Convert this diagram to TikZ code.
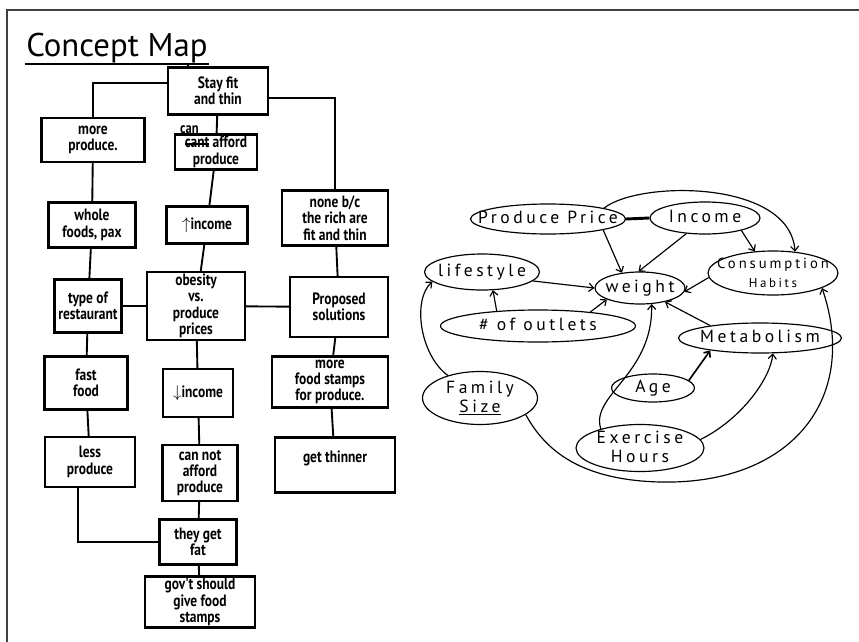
\documentclass[tikz,border=0pt]{standalone}
\usepackage{fontspec}
\setmainfont{PT Sans}
\newfontfamily\boxfont[FakeStretch=0.82]{PT Sans}
\newfontfamily\handfont[LetterSpace=20]{PT Sans}
\usetikzlibrary{positioning,shapes.geometric,arrows.meta}
\tikzset{>={Straight Barb[length=4pt,width=7pt]}}
\tikzset{
  mapbox/.style={draw, line width=1.8pt, inner sep=1.5pt, align=center, font=\boxfont\bfseries\fontsize{14}{14}\selectfont},
  oval/.style={draw, ellipse, line width=1pt, inner sep=0pt, font=\handfont\fontsize{15}{16}\selectfont},
  link/.style={line width=1.6pt},
  cause/.style={->, line width=1pt},
}
\newcommand\hand[1]{\makebox[0pt]{\smash{\raisebox{-0.3em}{\begin{tabular}{@{}c@{}}#1\end{tabular}}}}}
\newcommand\crossout[1]{\setbox0\hbox{#1}\rlap{\rule[0.35ex]{\wd0}{1.6pt}}\box0\relax}

\begin{document}
\begin{tikzpicture}[x=0.03cm, y=-0.03cm]
      \useasboundingbox (0,0) rectangle (859,642);
      \draw[line width=1.2pt, black!75] (7,642) -- (7,10) -- (859,10);
      % concept map on the left
      \node[font=\fontsize{28}{30}\selectfont, inner sep=1pt, anchor=base] (title) at (117,56) {Concept Map};
      \draw[line width=1.2pt] (title.south west) -- (title.south east);
      \node[mapbox, minimum width=3cm, minimum height=1.41cm] (stay) at (218,91) {Stay fit\\and thin};
      \node[mapbox, minimum width=3.09cm, minimum height=1.32cm] (more) at (93,140) {more\\produce.};
      \node[mapbox, minimum width=2.46cm, minimum height=1.05cm] (afford) at (216,152) {\crossout{cant} afford\\produce};
      \node[font=\boxfont\bfseries\fontsize{13}{13}\selectfont, inner sep=0pt, anchor=south west, above right=0cm and 0.18cm of afford.north west] (canlbl) {can};
      \node[mapbox, minimum width=3.18cm, minimum height=1.65cm] (none) at (335,218) {none b/c\\the rich are\\fit and thin};
      \node[mapbox, minimum width=2.61cm, minimum height=1.35cm] (whole) at (92,225) {whole\\foods, pax};
      \node[mapbox, minimum width=2.43cm, minimum height=1.11cm] (upinc) at (207,225) {$\uparrow$income};
      \node[mapbox, minimum width=2.01cm, minimum height=1.59cm] (type) at (88,306) {type of\\restaurant};
      \node[mapbox, minimum width=2.94cm, minimum height=2.04cm] (obes) at (196,306) {obesity\\vs.\\produce\\prices};
      \node[mapbox, minimum width=2.94cm, minimum height=1.8cm] (prop) at (339,307) {Proposed\\solutions};
      \node[mapbox, minimum width=2.49cm, minimum height=1.59cm] (fast) at (86,383) {fast\\food};
      \node[mapbox, minimum width=2.1cm, minimum height=1.44cm] (dninc) at (198,393) {$\downarrow$income};
      \node[mapbox, minimum width=3.48cm, minimum height=1.53cm] (stamps) at (330,382) {more\\food stamps\\for produce.};
      \node[mapbox, minimum width=2.7cm, minimum height=1.5cm] (less) at (90,462) {less\\produce};
      \node[mapbox, minimum width=2.25cm, minimum height=1.68cm] (cannot) at (200,473) {can not\\afford\\produce};
      \node[mapbox, minimum width=3.6cm, minimum height=1.65cm] (thin) at (335,465) {get thinner\\\mbox{}};
      \node[mapbox, minimum width=2.31cm, minimum height=1.35cm] (fat) at (198,542) {they get\\fat};
      \node[mapbox, minimum width=3.3cm, minimum height=1.5cm] (gov) at (200,602) {gov't should\\give food\\stamps};
      \draw[link] ([xshift=-0.9cm]stay.north) -- ([xshift=-0.9cm]stay.north |- title.south);
      \draw[link] ([yshift=0.24cm]stay.west) -| (more.north);
      \draw[link] ([yshift=-0.2cm]stay.east) -| (none.north);
      \draw[link] (stay) -- (afford);
      \draw[link] (more) -- (whole);
      \draw[link] (whole) -- (type);
      \draw[link] (type) -- (fast);
      \draw[link] (fast) -- (less);
      \draw[link] (afford) -- (upinc);
      \draw[link] (upinc) -- (obes);
      \draw[link] (obes) -- (dninc);
      \draw[link] (dninc) -- (cannot);
      \draw[link] (cannot) -- (fat);
      \draw[link] (fat) -- (gov);
      \draw[link] (none) -- (prop);
      \draw[link] (prop) -- (stamps);
      \draw[link] (stamps) -- (thin);
      \draw[link] (type) -- (obes);
      \draw[link] (obes) -- (prop);
      \draw[link] ([xshift=-0.36cm]less.south) |- (fat.west);
      % causal map on the right
      \node[oval, minimum width=4.65cm, minimum height=0.9cm] (pp) at (548,219) {\hand{Produce Price}};
      \node[oval, minimum width=3.3cm, minimum height=0.96cm] (inc) at (705,218) {\hand{Income}};
      \node[oval, minimum width=3.45cm, minimum height=1.08cm] (life) at (482,272) {\hand{lifestyle}};
      \node[oval, minimum width=2.7cm, minimum height=0.96cm] (wt) at (640,288) {\hand{weight}};
      \node[oval, minimum width=3.9cm, minimum height=1.32cm] (ch) at (773,273) {\hand{{\fontsize{12.5}{13}\selectfont Consumption}\\{\fontsize{11}{12}\selectfont Habits}}};
      \node[oval, minimum width=5.85cm, minimum height=0.96cm] (out) at (538,326) {\hand{\# of outlets}};
      \node[oval, minimum width=4.89cm, minimum height=0.9cm] (met) at (760,338) {\hand{Metabolism}};
      \node[oval, minimum width=2.49cm, minimum height=0.84cm] (age) at (653,388) {\hand{Age}};
      \node[oval, minimum width=3.45cm, minimum height=1.59cm] (fam) at (480,398) {\hand{Family\\\underline{Size}}};
      \node[oval, minimum width=3.84cm, minimum height=1.41cm] (ex) at (640,448) {\hand{Exercise\\Hours}};
      \draw[line width=2.5pt] (pp.east) -- (inc.west);
      \draw[cause] (pp.south east) -- (wt.140);
      \draw[cause] (inc.-140) -- (wt.95);
      \draw[cause] (inc.-19) -- (ch.130);
      \draw[cause] (pp.11) .. controls (640,180) and (790,180) .. (ch.44);
      \draw[cause] (ch.184) -- (wt.-5);
      \draw[cause] (life.-10) -- (wt.west);
      \draw[cause] (out.160) -- (life.-59);
      \draw[cause] (out.15) -- (wt.199);
      \draw[cause] (ex.154) .. controls (590,395) and (653,375) .. (wt.-54);
      \draw[cause] (met.166) -- (wt.-29);
      \draw[cause, line width=1.4pt] (age.12) -- (met.194);
      \draw[cause] (ex.8) .. controls (740,420) and (770,380) .. (met.-50);
      \draw[cause] (fam.145) .. controls (420,355) and (412,300) .. (life.191);
      \draw[cause] (fam.-20) .. controls (545,450) and (580,480) .. (660,482) .. controls (790,485) and (860,400) .. (ch.-17);
\end{tikzpicture}
\end{document}
